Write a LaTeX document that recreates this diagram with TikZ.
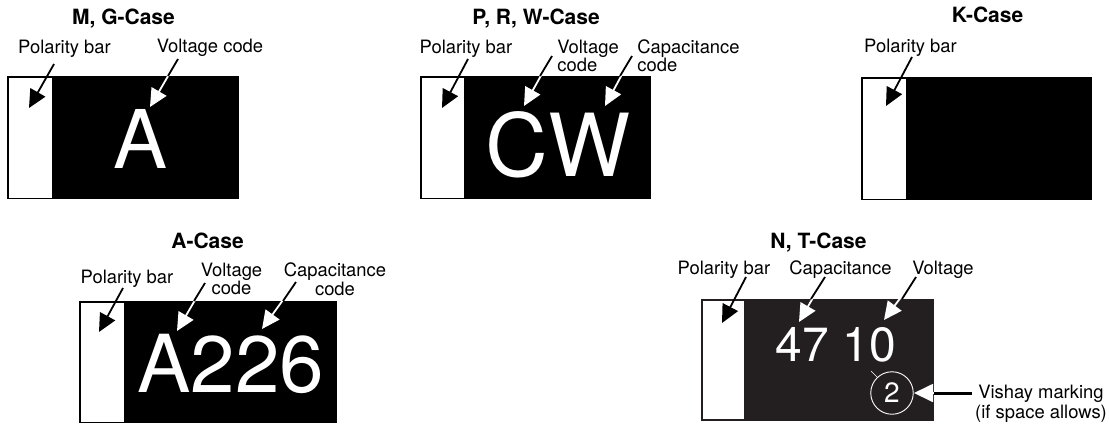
\documentclass[tikz,border=0pt]{standalone}
\usepackage{fontspec}
\setmainfont{TeX Gyre Heros}
\usetikzlibrary{arrows.meta}

\definecolor{chipdark}{RGB}{35,31,32}
\tikzset{every picture/.style={line width=0.75pt}}
\tikzset{
  casetitle/.style={font=\bfseries\fontsize{21}{21}\selectfont,inner sep=0,anchor=base},
  calltext/.style={font=\fontsize{18.4}{18}\selectfont,inner sep=0,anchor=base},
  callcode/.style={font=\fontsize{18.4}{18}\selectfont,inner sep=0,align=left,anchor=north west},
  callcentre/.style={font=\fontsize{18.4}{17}\selectfont,inner sep=0,align=center,anchor=north},
  chipbody/.style={fill=black,draw=none},
  barwhite/.style={fill=white,draw=none},
  pointer/.style={line width=1.8pt,-{Triangle[length=18pt,width=17pt]}},
  pointerwhite/.style={pointer,white},
  shaftblack/.style={line width=1.8pt,black},
  bigcode/.style={white,inner sep=0,anchor=base}
}

\begin{document}
\begin{tikzpicture}[x=1pt,y=1pt,yscale=-1,xscale=1]
	\useasboundingbox (0,0) rectangle (1109,424);

	%Case M, G
	\draw [chipbody] (7,76) rectangle (239,199);
	\draw [barwhite] (8.5,77.5) rectangle (52,197.5);
	\node [bigcode,font=\fontsize{81}{81}\selectfont] (codeM) at (140.5,168) {A};
	% Text Node
	\node [casetitle] (titleM) at (123.5,24) {M, G-Case};
	\node [calltext] (polM) at (64.5,53) {Polarity bar};
	\node [calltext] (voltM) at (210,52) {Voltage code};
	\coordinate (polMa) at (54,64);
	\coordinate (polMb) at (29,108);
	\coordinate (voltMa) at (178,59);
	\coordinate (voltMc) at (168,76);
	\coordinate (voltMb) at (150,107);
	\draw [pointer] (polMa) -- (polMb);
	\draw [pointerwhite] (voltMa) -- (voltMb);
	\draw [shaftblack] (voltMa) -- (voltMc);

	%Case P, R, W
	\draw [chipbody] (420,76) rectangle (651,199);
	\draw [barwhite] (421.5,77.5) rectangle (464,197.5);
	\node [bigcode,font=\fontsize{87}{87}\selectfont] (codeP) at (558,176) {CW};
	% Text Node
	\node [casetitle] (titleP) at (536,24) {P, R, W-Case};
	\node [calltext] (polP) at (466,53) {Polarity bar};
	\node [callcode] (voltP) at (557,39.5) {Voltage\\code};
	\node [callcode] (capP) at (637,39.5) {Capacitance\\code};
	\coordinate (polPa) at (468,59);
	\coordinate (polPb) at (442,108);
	\coordinate (voltPa) at (552,56);
	\coordinate (voltPc) at (540,76);
	\coordinate (voltPb) at (524,106);
	\coordinate (capPa) at (632,56);
	\coordinate (capPc) at (620,76);
	\coordinate (capPb) at (605,106);
	\draw [pointer] (polPa) -- (polPb);
	\draw [pointerwhite] (voltPa) -- (voltPb);
	\draw [shaftblack] (voltPa) -- (voltPc);
	\draw [pointerwhite] (capPa) -- (capPb);
	\draw [shaftblack] (capPa) -- (capPc);

	%Case K
	\draw [chipbody] (861,77) rectangle (1092,200);
	\draw [barwhite] (862.5,78.5) rectangle (906,198.5);
	% Text Node
	\node [casetitle] (titleK) at (987.5,22.5) {K-Case};
	\node [calltext] (polK) at (910.5,52) {Polarity bar};
	\coordinate (polKa) at (912,57);
	\coordinate (polKb) at (886,106);
	\draw [pointer] (polKa) -- (polKb);

	%Case A
	\draw [chipbody] (79,301) rectangle (337,423);
	\draw [barwhite] (80.5,302.5) rectangle (124,421.5);
	\node [bigcode,font=\fontsize{80}{80}\selectfont] (codeA) at (231,392.5) {A226};
	% Text Node
	\node [casetitle] (titleA) at (207.5,248) {A-Case};
	\node [calltext] (polA) at (127,283) {Polarity bar};
	\node [callcentre] (voltA) at (231.5,262.5) {Voltage\\code};
	\node [callcentre] (capA) at (335,262.5) {Capacitance\\code};
	\coordinate (polAa) at (123,288);
	\coordinate (polAb) at (99,332);
	\coordinate (voltAa) at (205,283);
	\coordinate (voltAc) at (194,301);
	\coordinate (voltAb) at (177,331);
	\coordinate (capAa) at (296,282);
	\coordinate (capAc) at (283,301);
	\coordinate (capAb) at (262,329);
	\draw [pointer] (polAa) -- (polAb);
	\draw [pointerwhite] (voltAa) -- (voltAb);
	\draw [shaftblack] (voltAa) -- (voltAc);
	\draw [pointerwhite] (capAa) -- (capAb);
	\draw [shaftblack] (capAa) -- (capAc);

	%Case N, T
	\draw [fill=chipdark,draw=none] (701,299) rectangle (934,421);
	\draw [barwhite] (703,301) rectangle (744,419);
	\node [bigcode,font=\fontsize{48}{48}\selectfont] (codeN) at (836,361) {47 10};
	\node [circle,draw=white,line width=0.9pt,minimum size=42.5pt,inner sep=0] (markN) at (892,393) {};
	\node [white,inner sep=0,font=\fontsize{28}{28}\selectfont] (numN) at (markN.center) {2};
	\coordinate (tickNa) at (871,371);
	\coordinate (tickNb) at (877,377);
	\draw [white,line width=0.7pt] (tickNa) -- (tickNb);
	% Text Node
	\node [casetitle] (titleN) at (818.5,248) {N, T-Case};
	\node [calltext] (polN) at (724,274) {Polarity bar};
	\node [calltext] (capN) at (840.5,274) {Capacitance};
	\node [calltext] (voltN) at (943,274) {Voltage};
	\node [font=\fontsize{18.4}{20}\selectfont,inner sep=0,align=center,anchor=north] (vishN) at (1041,384.5) {Vishay marking\\(if space allows)};
	\coordinate (polNa) at (746,277);
	\coordinate (polNb) at (722,323);
	\coordinate (capNa) at (825,277);
	\coordinate (capNc) at (811,299);
	\coordinate (capNb) at (799,322);
	\coordinate (voltNa) at (916,277);
	\coordinate (voltNc) at (902,299);
	\coordinate (voltNb) at (884,320);
	\coordinate (vishNa) at (972,393);
	\coordinate (vishNc) at (934,393);
	\coordinate (vishNb) at (914,393);
	\draw [pointer] (polNa) -- (polNb);
	\draw [pointerwhite] (capNa) -- (capNb);
	\draw [shaftblack] (capNa) -- (capNc);
	\draw [pointerwhite] (voltNa) -- (voltNb);
	\draw [shaftblack] (voltNa) -- (voltNc);
	\draw [pointerwhite,-{Triangle[length=19pt,width=18pt]}] (vishNa) -- (vishNb);
	\draw [black,line width=3pt] (vishNa) -- (vishNc);

\end{tikzpicture}
\end{document}
